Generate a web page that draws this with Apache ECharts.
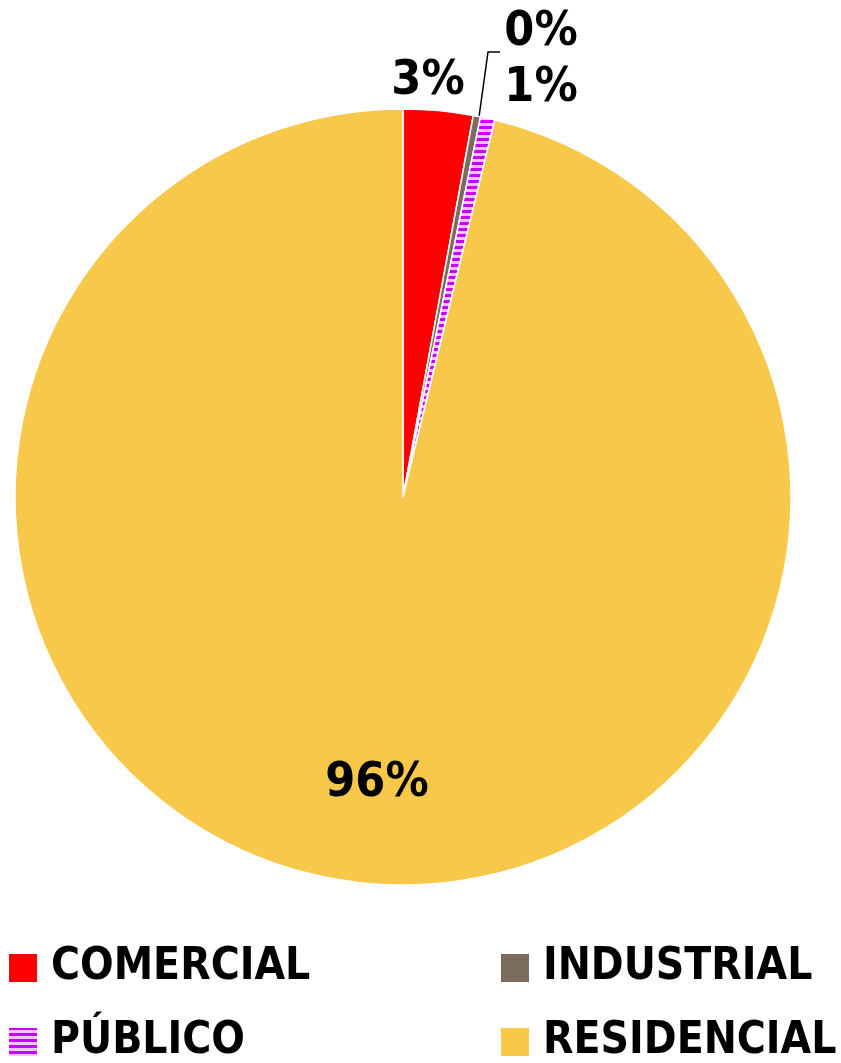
<!DOCTYPE html>
<html><head><meta charset="utf-8">
<script src="https://cdn.jsdelivr.net/npm/echarts@6/dist/echarts.min.js"></script>
<style>html,body{margin:0;padding:0;background:#fff}#c{width:841px;height:1063px}</style>
</head><body><div id="c"></div>
<script>
const categories = ['COMERCIAL', 'INDUSTRIAL', 'PÚBLICO', 'RESIDENCIAL'];
const values = [2.9, 0.3, 0.6, 96.2];

const FONT = '"DejaVu Sans Condensed", "Liberation Sans Narrow", sans-serif';

// striped pattern for PÚBLICO
const pc = document.createElement('canvas');
pc.width = 6; pc.height = 6;
const g = pc.getContext('2d');
g.fillStyle = '#f5c2ff'; g.fillRect(0, 0, 6, 6);
g.fillStyle = '#c800ff'; g.fillRect(0, 0, 6, 3);

const colors = ['#ff0000', '#7b6c5d', {image: pc, repeat: 'repeat'}, '#f8c84a'];

const chart = echarts.init(document.getElementById('c'), null, {renderer: 'canvas'});

const labelPos = [
  {x: 428, y: 82},
  {x: 541, y: 33},
  {x: 541, y: 89},
  {x: 377, y: 784}
];

const legendPos = [
  {left: 7, top: 946},
  {left: 499, top: 946},
  {left: 7, top: 1020},
  {left: 499, top: 1020}
];

function mkLegend(i) {
  return {
    data: [categories[i]],
    orient: 'horizontal', left: legendPos[i].left, top: legendPos[i].top, padding: 0,
    itemWidth: 30, itemHeight: 30, icon: 'rect',
    textStyle: {fontFamily: FONT, fontWeight: 'bold', fontSize: 44, color: '#000', padding: [0, 0, 0, 8]}
  };
}

chart.setOption({
  animation: false,
  color: colors,
  legend: [mkLegend(0), mkLegend(1), mkLegend(2), mkLegend(3)],
  series: [{
    type: 'pie',
    center: [403, 497],
    radius: [0, 388],
    startAngle: 90,
    clockwise: true,
    percentPrecision: 0,
    avoidLabelOverlap: false,
    itemStyle: {borderColor: '#fff', borderWidth: 1.5},
    label: {
      show: true, position: 'outside', formatter: '{d}%',
      fontFamily: FONT, fontWeight: 'bold', fontSize: 48, color: '#000'
    },
    labelLine: {show: false, lineStyle: {color: '#000', width: 1.5}},
    labelLayout: function (p) {
      const pos = labelPos[p.dataIndex];
      const r = {x: pos.x, y: pos.y, align: 'center', verticalAlign: 'middle'};
      if (p.dataIndex === 1) {
        r.labelLinePoints = [[479, 117], [488, 52], [500, 52]];
      }
      return r;
    },
    emphasis: {disabled: true},
    data: categories.map((c, i) => ({
      name: c,
      value: values[i],
      labelLine: {show: i === 1},
      label: i === 3 ? {position: 'inside'} : undefined
    }))
  }]
});
</script></body></html>
